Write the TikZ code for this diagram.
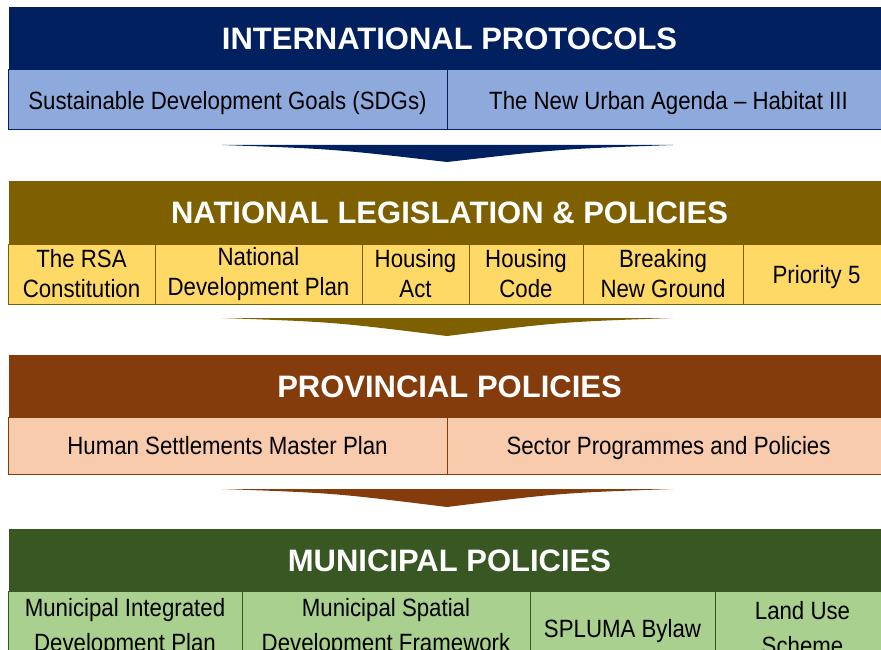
\documentclass[tikz,border=0pt]{standalone}
\usepackage{fontspec}
\setmainfont{Liberation Sans}
\newfontfamily\subfont[FakeStretch=0.89,Ligatures=TeX]{Liberation Sans}
\definecolor{navy}{HTML}{002060}
\definecolor{lblue}{HTML}{8EA9DB}
\definecolor{olive}{HTML}{7F6000}
\definecolor{lyellow}{HTML}{FFD966}
\definecolor{rust}{HTML}{843C0C}
\definecolor{peach}{HTML}{F8CBAD}
\definecolor{dgreen}{HTML}{385723}
\definecolor{lgreen}{HTML}{A9D08E}
\tikzset{
  hdr/.style={rectangle, inner sep=0pt, outer sep=0pt, text=white,
    font=\bfseries\fontsize{31}{36}\selectfont, minimum width=882pt,
    text height=24pt, text depth=1.8pt},
  cell/.style={rectangle, draw, line width=1pt, inner sep=0pt, outer sep=0pt,
    align=center, text=black, font=\subfont\fontsize{25}{30}\selectfont},
  oneline/.style={text height=22pt, text depth=3.6pt},
  tall/.style={font=\subfont\fontsize{25}{35}\selectfont},
}
\begin{document}
\begin{tikzpicture}[x=1pt,y=-1pt]
\useasboundingbox (0,0) rectangle (881,650);
\clip (0,0) rectangle (881,650);
% ---- International
\node[hdr, fill=navy, minimum height=63pt] (intl) at (449.5,38.5) {INTERNATIONAL PROTOCOLS};
\node[cell, oneline, draw=navy, fill=lblue, minimum width=439pt, minimum height=60pt] (sdg) at (227.5,100) {Sustainable Development Goals (SDGs)};
\node[cell, oneline, draw=navy, fill=lblue, minimum width=443pt, minimum height=60pt] (nua) at (668.5,100) {The New Urban Agenda – Habitat III};
\coordinate (w1l) at (222,145); \coordinate (w1r) at (673,145); \coordinate (w1t) at (447,162);
\fill[navy] (w1l) -- (w1r) .. controls (560,149) .. (w1t) .. controls (334,149) .. (w1l) -- cycle;
% ---- National
\node[hdr, fill=olive, minimum height=63pt] (natl) at (449.5,212.5) {NATIONAL LEGISLATION \& POLICIES};
\node[cell, draw=olive, fill=lyellow, minimum width=147pt, minimum height=60pt] (rsa) at (81.5,274) {The RSA\\Constitution};
\node[cell, draw=olive, fill=lyellow, minimum width=207pt, minimum height=60pt] (ndp) at (258.5,274) {National\\Development Plan};
\node[cell, draw=olive, fill=lyellow, minimum width=107pt, minimum height=60pt] (hact) at (415.5,274) {Housing\\Act};
\node[cell, draw=olive, fill=lyellow, minimum width=114pt, minimum height=60pt] (hcode) at (526,274) {Housing\\Code};
\node[cell, draw=olive, fill=lyellow, minimum width=160pt, minimum height=60pt] (bng) at (663,274) {Breaking\\New Ground};
\node[cell, oneline, draw=olive, fill=lyellow, minimum width=147pt, minimum height=60pt] (p5) at (816.5,274) {Priority 5};
\coordinate (w2l) at (222,318); \coordinate (w2r) at (673,318); \coordinate (w2t) at (447,336);
\fill[olive] (w2l) -- (w2r) .. controls (560,322) .. (w2t) .. controls (334,322) .. (w2l) -- cycle;
% ---- Provincial
\node[hdr, fill=rust, minimum height=62pt] (prov) at (449.5,386) {PROVINCIAL POLICIES};
\node[cell, oneline, draw=rust, fill=peach, minimum width=439pt, minimum height=57pt] (hsmp) at (227.5,445.5) {Human Settlements Master Plan};
\node[cell, oneline, draw=rust, fill=peach, minimum width=443pt, minimum height=57pt] (spp) at (668.5,445.5) {Sector Programmes and Policies};
\coordinate (w3l) at (222,489); \coordinate (w3r) at (673,489); \coordinate (w3t) at (447,507);
\fill[rust] (w3l) -- (w3r) .. controls (560,493) .. (w3t) .. controls (334,493) .. (w3l) -- cycle;
% ---- Municipal
\node[hdr, fill=dgreen, minimum height=62pt] (muni) at (449.5,560) {MUNICIPAL POLICIES};
\node[cell, tall, draw=dgreen, fill=lgreen, minimum width=234pt, minimum height=74pt] (midp) at (125,628) {Municipal Integrated\\Development Plan};
\node[cell, tall, draw=dgreen, fill=lgreen, minimum width=288pt, minimum height=74pt] (msdf) at (386,628) {Municipal Spatial\\Development Framework};
\node[cell, oneline, draw=dgreen, fill=lgreen, minimum width=185pt, minimum height=74pt] (spl) at (622.5,628) {SPLUMA Bylaw};
\node[cell, tall, draw=dgreen, fill=lgreen, minimum width=175pt, minimum height=74pt] (lus) at (802.5,628) {Land Use\\Scheme};
\end{tikzpicture}
\end{document}
